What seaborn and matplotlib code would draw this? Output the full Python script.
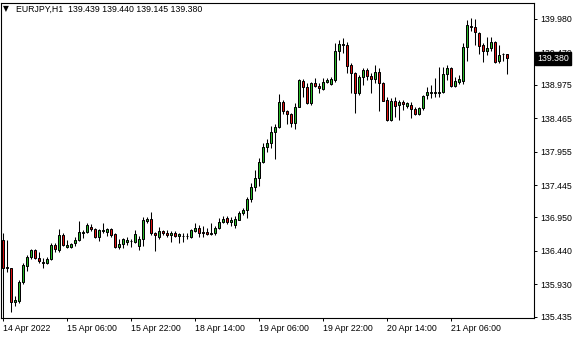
import numpy as np
import pandas as pd
import matplotlib
matplotlib.use("Agg")
import matplotlib.pyplot as plt
import matplotlib.transforms as mtransforms
import seaborn as sns

# ---- data (hourly EURJPY candles) ----
open_ = [136.606, 136.179, 136.179, 135.660, 135.675, 135.965, 136.209, 136.346, 136.453, 136.331,
         136.255, 136.255, 136.316, 136.530, 136.453, 136.682, 136.499, 136.499, 136.560, 136.606,
         136.720, 136.728, 136.804, 136.774, 136.652, 136.743, 136.728, 136.774, 136.698, 136.499,
         136.545, 136.575, 136.591, 136.575, 136.514, 136.621, 136.896, 136.927, 136.713, 136.652,
         136.743, 136.713, 136.682, 136.713, 136.667, 136.667, 136.667, 136.652, 136.743, 136.789,
         136.728, 136.728, 136.698, 136.713, 136.789, 136.881, 136.942, 136.881, 136.835, 136.911,
         137.018, 137.064, 137.232, 137.415, 137.553, 137.797, 138.026, 138.087, 138.255, 138.331,
         138.713, 138.575, 138.530, 138.392, 138.637, 139.033, 138.942, 138.698, 139.003, 138.957,
         138.911, 139.018, 138.988, 139.049, 139.491, 139.583, 139.583, 139.278, 139.155, 138.850,
         139.094, 139.201, 139.110, 139.064, 139.171, 139.003, 138.743, 138.438, 138.728, 138.667,
         138.713, 138.652, 138.667, 138.606, 138.530, 138.621, 138.820, 138.850, 138.850, 138.850,
         138.865, 139.140, 139.232, 138.957, 139.018, 139.033, 139.553, 139.873, 139.858, 139.766,
         139.583, 139.491, 139.537, 139.629, 139.339, 139.446, 139.439]
high = [136.713, 136.606, 136.179, 135.751, 135.996, 136.255, 136.377, 136.469, 136.469, 136.423,
        136.331, 136.346, 136.560, 136.560, 136.774, 136.713, 136.606, 136.560, 136.652, 136.896,
        136.759, 136.866, 136.850, 136.789, 136.774, 136.866, 136.789, 136.789, 136.713, 136.621,
        136.636, 136.652, 136.621, 136.759, 136.667, 136.957, 136.957, 137.033, 136.728, 136.804,
        136.759, 136.759, 136.743, 136.743, 136.713, 136.713, 136.713, 136.774, 136.866, 136.835,
        136.820, 136.789, 136.866, 136.820, 136.942, 136.972, 136.972, 136.957, 136.972, 137.049,
        137.094, 137.262, 137.476, 137.675, 137.858, 138.087, 138.148, 138.347, 138.377, 138.835,
        138.743, 138.591, 138.545, 138.698, 139.064, 139.064, 139.003, 139.018, 139.079, 139.003,
        139.079, 139.079, 139.094, 139.614, 139.659, 139.690, 139.629, 139.308, 139.171, 139.125,
        139.232, 139.232, 139.155, 139.278, 139.232, 139.018, 138.789, 138.774, 138.789, 138.743,
        138.743, 138.713, 138.713, 138.637, 138.637, 138.820, 138.942, 138.973, 139.079, 139.247,
        139.247, 139.278, 139.247, 139.094, 139.125, 139.614, 139.965, 139.995, 139.980, 139.781,
        139.614, 139.705, 139.705, 139.644, 139.583, 139.461, 139.440]
low = [135.230, 136.118, 135.507, 135.598, 135.644, 135.935, 136.133, 136.316, 136.316, 136.255,
       136.179, 136.240, 136.301, 136.423, 136.423, 136.514, 136.484, 136.484, 136.514, 136.591,
       136.636, 136.713, 136.743, 136.636, 136.591, 136.713, 136.667, 136.652, 136.484, 136.469,
       136.484, 136.530, 136.499, 136.560, 136.453, 136.514, 136.866, 136.682, 136.438, 136.621,
       136.682, 136.652, 136.575, 136.652, 136.560, 136.575, 136.621, 136.636, 136.728, 136.652,
       136.652, 136.682, 136.682, 136.682, 136.774, 136.866, 136.850, 136.820, 136.789, 136.911,
       136.988, 136.942, 137.186, 137.354, 137.430, 137.782, 137.950, 138.011, 137.843, 138.316,
       138.530, 138.377, 138.331, 138.301, 138.637, 138.789, 138.682, 138.667, 138.942, 138.850,
       138.896, 139.003, 138.973, 139.018, 139.354, 139.461, 139.155, 138.850, 138.545, 138.820,
       138.973, 139.049, 138.850, 139.003, 138.575, 138.728, 138.423, 138.423, 138.484, 138.438,
       138.591, 138.621, 138.469, 138.514, 138.514, 138.591, 138.759, 138.774, 138.789, 138.789,
       138.850, 139.049, 138.942, 138.942, 138.988, 138.988, 139.339, 139.797, 139.583, 139.446,
       139.323, 139.430, 139.491, 139.308, 139.308, 139.339, 139.145]
close = [136.179, 136.194, 135.660, 135.690, 135.965, 136.224, 136.346, 136.453, 136.331, 136.285,
         136.270, 136.316, 136.530, 136.469, 136.682, 136.530, 136.530, 136.545, 136.606, 136.728,
         136.728, 136.835, 136.774, 136.652, 136.759, 136.759, 136.774, 136.682, 136.499, 136.545,
         136.621, 136.606, 136.591, 136.698, 136.621, 136.911, 136.927, 136.713, 136.682, 136.743,
         136.713, 136.682, 136.713, 136.667, 136.698, 136.667, 136.667, 136.759, 136.789, 136.713,
         136.713, 136.698, 136.713, 136.789, 136.881, 136.927, 136.881, 136.911, 136.927, 137.018,
         137.064, 137.232, 137.415, 137.553, 137.797, 138.026, 138.087, 138.255, 138.331, 138.713,
         138.575, 138.530, 138.392, 138.637, 139.049, 138.942, 138.698, 139.003, 138.957, 138.927,
         139.018, 139.049, 139.064, 139.491, 139.598, 139.598, 139.262, 139.155, 138.850, 139.094,
         139.201, 139.110, 139.064, 139.171, 139.003, 138.728, 138.438, 138.728, 138.652, 138.713,
         138.682, 138.698, 138.606, 138.530, 138.621, 138.804, 138.865, 138.865, 138.865, 138.865,
         139.140, 139.232, 138.957, 139.033, 139.064, 139.553, 139.888, 139.858, 139.781, 139.568,
         139.491, 139.537, 139.629, 139.323, 139.430, 139.446, 139.380]

xtick_bars = [0, 16, 32, 48, 64, 80, 96, 112]
xtick_labels = ["14 Apr 2022", "15 Apr 06:00", "15 Apr 22:00", "18 Apr 14:00",
                "19 Apr 06:00", "19 Apr 22:00", "20 Apr 14:00", "21 Apr 06:00"]
ytick_values = [139.980, 139.470, 138.975, 138.465, 137.955, 137.445,
                136.950, 136.440, 135.930, 135.435]
header = "EURJPY,H1  139.439 139.440 139.145 139.380"
last_price = 139.380

# ---- styling ----
sns.set_theme(style="white")
plt.rcParams['font.family'] = ['Liberation Sans', 'DejaVu Sans']

df = pd.DataFrame({"bar": np.arange(len(open_)), "open": open_, "high": high,
                   "low": low, "close": close})
df["bull"] = df["close"] >= df["open"]
df["bottom"] = df[["open", "close"]].min(axis=1)
df["height"] = (df["close"] - df["open"]).abs().clip(lower=0.004)

W, H = 580, 340
fig = plt.figure(figsize=(W / 100, H / 100), dpi=100)
fig.patch.set_facecolor("white")
ax = fig.add_axes([1 / W, 22 / H, 533 / W, 315 / H])
ax.set_facecolor("white")

# wicks
ax.vlines(df["bar"], df["low"], df["high"], color="black", linewidth=0.75, zorder=2)
# bodies
colors = np.where(df["bull"], "#28b828", "#dd1111")
ax.bar(df["bar"], df["height"], bottom=df["bottom"], width=0.5, color=colors,
       edgecolor="black", linewidth=0.72, zorder=3)

ax.set_xlim(-0.5, 132.75)
ax.set_ylim(135.415, 140.224)

# axes frame
for s in ax.spines.values():
    s.set_visible(True)
    s.set_color("black")
    s.set_linewidth(0.8)

# y axis on the right
ax.yaxis.tick_right()
ax.set_yticks(ytick_values)
ax.set_yticklabels([f"{v:.3f}" for v in ytick_values])
ax.tick_params(axis="y", which="both", direction="out", length=2.5, width=0.7,
               pad=2, labelsize=6.3, colors="black", right=True, left=False)

# x axis
ax.set_xticks(xtick_bars)
ax.set_xticklabels(xtick_labels, ha="left")
ax.tick_params(axis="x", which="both", direction="out", length=2.5, width=0.7,
               pad=2, labelsize=6.3, colors="black", bottom=True, top=False)
ax.grid(False)

# header
fig.text(3 / W, 1 - 9 / H, "\u25BC", family="DejaVu Sans", fontsize=5.5,
         va="center", ha="left", color="black")
fig.text(16 / W, 1 - 9 / H, header, fontsize=6.3, va="center", ha="left", color="black")

# current price box
trans = mtransforms.blended_transform_factory(fig.transFigure, ax.transData)
ax.text(537 / W, last_price, f"{last_price:.3f}", transform=trans, ha="left", va="center",
        fontsize=6.3, color="white", zorder=10, clip_on=False,
        bbox=dict(boxstyle="square,pad=0.25", facecolor="black", edgecolor="black"))

fig.savefig("out.png", dpi=100, facecolor="white")
